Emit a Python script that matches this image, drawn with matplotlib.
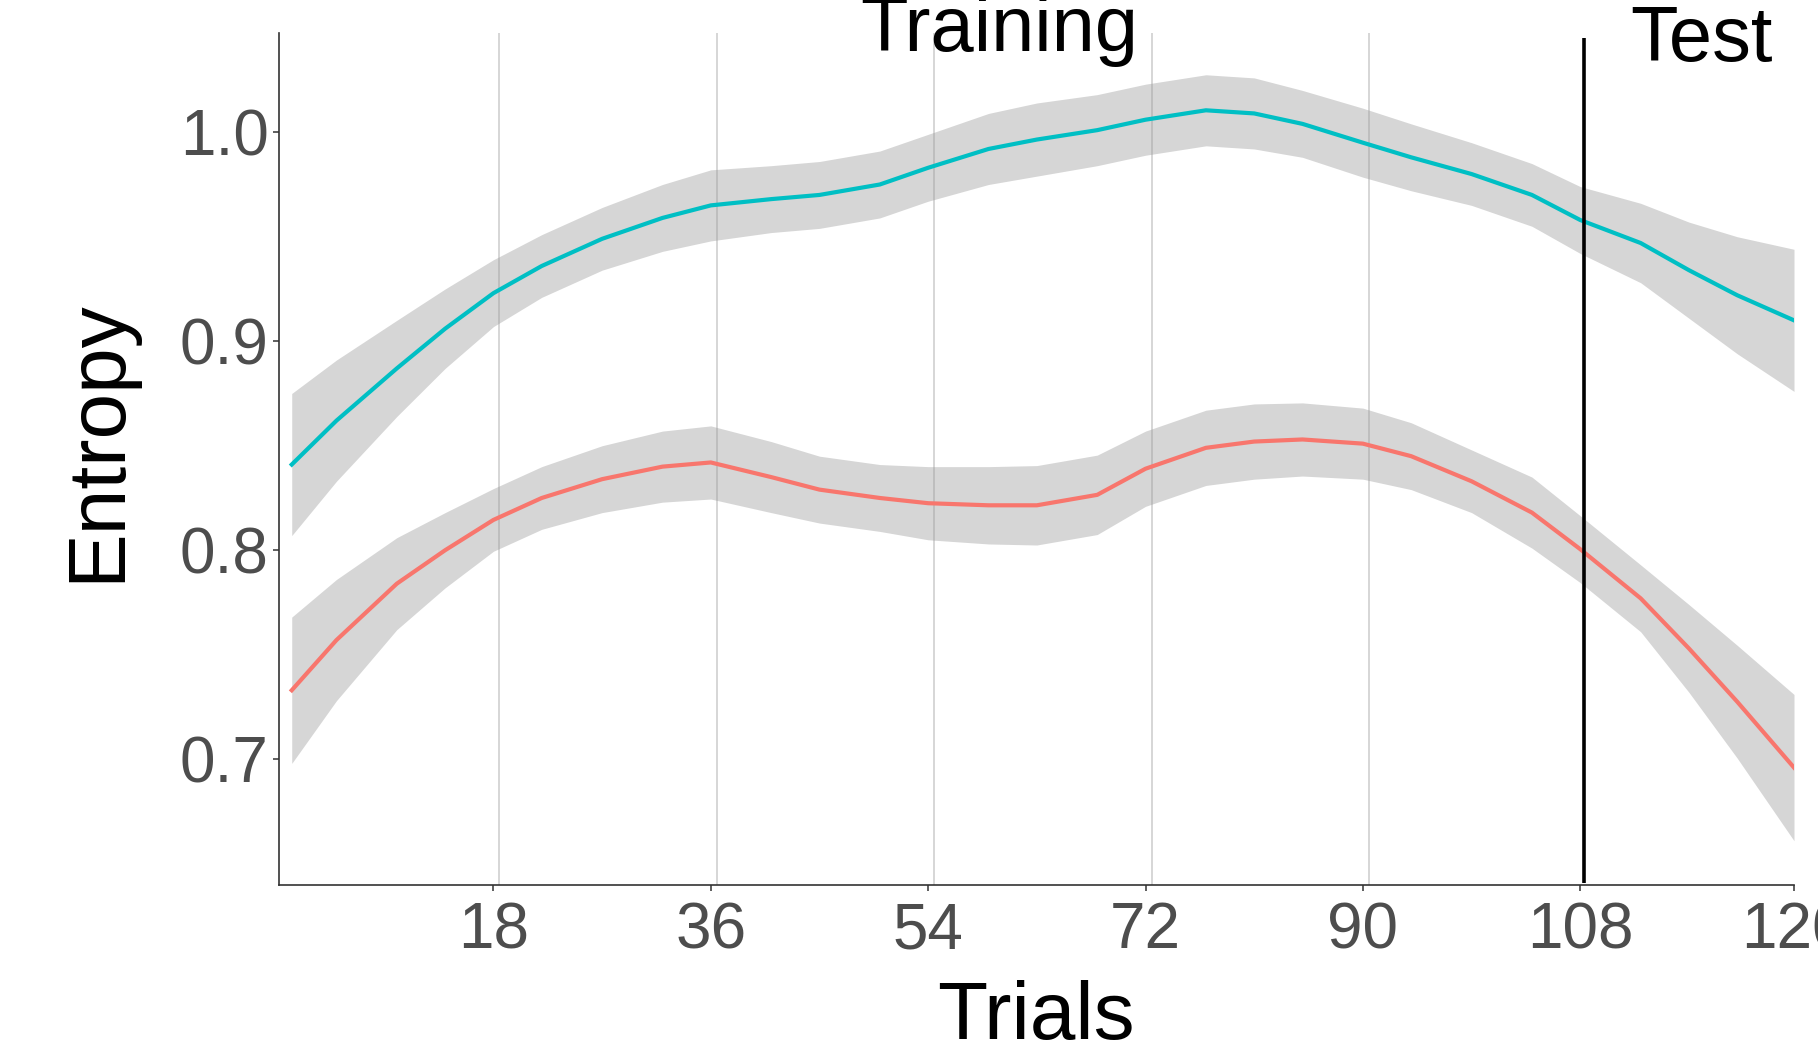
import matplotlib
matplotlib.use("Agg")
import matplotlib.pyplot as plt
import numpy as np

plt.rcParams['font.family'] = ['Liberation Sans', 'DejaVu Sans']

# trial positions where the curves were read
trials = [1.3, 5, 10, 14, 18, 22, 27, 32, 36, 41, 45, 50, 54, 59, 63, 68,
          72, 77, 81, 85, 90, 94, 99, 104, 108, 113, 117, 121, 125.7]

# teal group: smoothed entropy and half width of the band
teal_fit = [0.841, 0.862, 0.887, 0.906, 0.923, 0.936, 0.949, 0.959, 0.965,
            0.968, 0.970, 0.975, 0.983, 0.992, 0.9965, 1.001, 1.006, 1.0105,
            1.009, 1.004, 0.995, 0.988, 0.980, 0.970, 0.958, 0.947, 0.934,
            0.922, 0.910]
teal_se = [0.034, 0.029, 0.023, 0.019, 0.016, 0.015, 0.015, 0.016, 0.017,
           0.016, 0.016, 0.016, 0.016, 0.017, 0.0175, 0.017, 0.017, 0.017,
           0.017, 0.016, 0.0165, 0.016, 0.015, 0.015, 0.016, 0.019, 0.023,
           0.028, 0.034]

# red group
red_fit = [0.733, 0.757, 0.784, 0.800, 0.8145, 0.825, 0.834, 0.840, 0.842,
           0.835, 0.829, 0.825, 0.8225, 0.8215, 0.8215, 0.8265, 0.839, 0.849,
           0.852, 0.853, 0.851, 0.845, 0.833, 0.818, 0.8005, 0.777, 0.753,
           0.7275, 0.696]
red_se = [0.035, 0.029, 0.022, 0.018, 0.015, 0.015, 0.016, 0.017, 0.0175,
          0.017, 0.016, 0.016, 0.0175, 0.0185, 0.019, 0.019, 0.018, 0.018,
          0.018, 0.0175, 0.017, 0.016, 0.015, 0.017, 0.016, 0.016, 0.021,
          0.027, 0.035]

tick_pos = [18, 36, 54, 72, 90, 108, 125.7]
tick_labels = ['18', '36', '54', '72', '90', '108', '120']
y_ticks = [0.7, 0.8, 0.9, 1.0]
block_lines = [18.5, 36.5, 54.5, 72.5, 90.5]
test_start = 108.3

fig = plt.figure(figsize=(18.18, 10.5), dpi=100)
ax = fig.add_axes([0.1535, 0.1571, 0.9868 - 0.1535, 0.9686 - 0.1571])

for b in block_lines:
    ax.axvline(b, color='#cccccc', lw=1.1, zorder=0)

t = np.array(trials)
for fit, se, col in [(teal_fit, teal_se, '#00BFC4'), (red_fit, red_se, '#F8766D')]:
    fit = np.array(fit)
    se = np.array(se)
    ax.fill_between(t, fit - se, fit + se, color='#999999', alpha=0.4, lw=0, zorder=1)
    ax.plot(t, fit, color=col, lw=3.0, zorder=2, solid_joinstyle='round')

ax.vlines(test_start, 0.641, 1.045, color='black', lw=2.6, zorder=3)

ax.set_xlim(0.25, 125.7)
ax.set_ylim(0.6398, 1.0475)
ax.set_xticks(tick_pos)
ax.set_xticklabels(tick_labels)
ax.set_yticks(y_ticks)
ax.set_yticklabels(['0.7', '0.8', '0.9', '1.0'])

for s in ['top', 'right']:
    ax.spines[s].set_visible(False)
for s in ['left', 'bottom']:
    ax.spines[s].set_color('#333333')
    ax.spines[s].set_linewidth(1.2)

ax.tick_params(axis='both', colors='#333333', length=4.5, width=1.1,
               labelsize=46, labelcolor='#4D4D4D')
ax.tick_params(axis='x', pad=7)
ax.tick_params(axis='y', pad=3)

fig.text(0.054, 0.58, 'Entropy', rotation=90, ha='center', va='center', fontsize=59)
fig.text(0.570, 0.01, 'Trials', ha='center', va='baseline', fontsize=59)
fig.text(0.5497, 0.951, 'Training', ha='center', va='baseline', fontsize=56)
fig.text(0.936, 0.942, 'Test', ha='center', va='baseline', fontsize=56)

plt.savefig('out.png', dpi=100)
